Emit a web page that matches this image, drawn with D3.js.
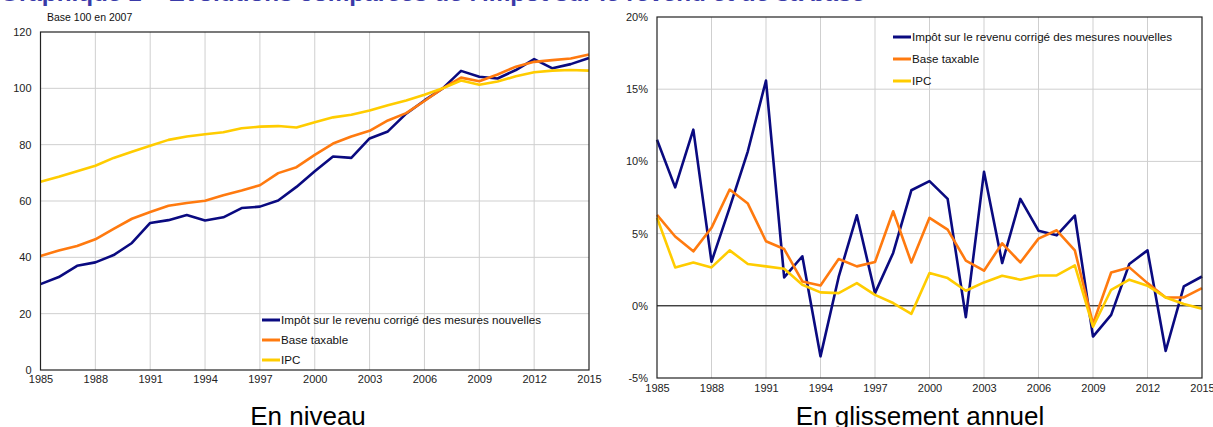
<!DOCTYPE html>
<html><head><meta charset="utf-8">
<script src="https://cdn.jsdelivr.net/npm/d3@7"></script>
<style>
body{margin:0;background:#fff;}
svg{display:block;font-family:"Liberation Sans",Arial,sans-serif;}
</style></head><body>
<svg id="c" width="1213" height="427"></svg>
<script>
const years = d3.range(1985, 2016);
const seriesNames = ["Impôt sur le revenu corrigé des mesures nouvelles", "Base taxable", "IPC"];
const seriesColors = ["#0a0a80", "#ff7a0f", "#ffcc00"];

// En niveau (base 100 en 2007)
const levelImpot = [30.5,33.0,37.0,38.2,40.8,45.1,52.2,53.2,55.0,53.1,54.2,57.5,58.0,60.2,65.0,70.6,75.8,75.3,82.2,84.7,91.0,95.7,100.0,106.2,104.1,103.5,106.5,110.4,107.1,108.6,110.8];
const levelBase = [40.5,42.4,44.0,46.4,50.1,53.7,56.1,58.3,59.3,60.1,62.0,63.7,65.6,69.9,72.0,76.4,80.4,82.9,84.9,88.6,91.2,95.5,100.0,103.8,102.5,104.9,107.7,109.4,110.0,110.6,112.0];
const levelIPC = [66.8,68.6,70.6,72.5,75.3,77.5,79.6,81.7,82.9,83.7,84.4,85.8,86.4,86.6,86.1,88.0,89.7,90.6,92.1,94.0,95.7,97.7,100.0,102.8,101.3,102.4,104.3,105.7,106.3,106.5,106.3];

// En glissement annuel (%)
const growthImpot = [11.5,8.2,12.2,3.05,6.8,10.7,15.6,1.97,3.43,-3.5,2.0,6.27,0.88,3.66,8.0,8.63,7.4,-0.79,9.28,2.96,7.4,5.2,4.88,6.25,-2.13,-0.63,2.9,3.84,-3.13,1.34,2.03];
const growthBase = [6.3,4.8,3.77,5.4,8.05,7.08,4.47,3.93,1.69,1.41,3.24,2.73,3.03,6.55,3.0,6.09,5.28,3.13,2.43,4.33,3.0,4.65,5.23,3.84,-1.25,2.31,2.66,1.57,0.58,0.58,1.23];
const growthIPC = [6.1,2.66,3.0,2.66,3.84,2.89,2.73,2.57,1.46,0.93,0.88,1.57,0.76,0.19,-0.56,2.27,1.92,1.04,1.62,2.08,1.81,2.1,2.1,2.8,-1.45,1.11,1.81,1.39,0.58,0.12,-0.21];

const xTicks = d3.range(1985, 2016, 3);
const leftYTicks = [0,20,40,60,80,100,120];
const rightYTicks = [-5,0,5,10,15,20];

const svg = d3.select("#c");

// cut-off title (only its lowest pixels show, as in the reference)
svg.append("text").attr("x", 0).attr("y", 0.6)
  .attr("font-size", 22).attr("font-weight", "bold").attr("fill", "#3a3aa8")
  .attr("textLength", 865).attr("lengthAdjust", "spacingAndGlyphs")
  .text("Graphique 1 – Évolutions comparées de l'impôt sur le revenu et de sa base");

function panel(cfg) {
  const {x0, x1, y0, y1, domain, yTicks, data, fmt, legend, zero} = cfg;
  const x = d3.scaleLinear().domain([1985, 2015]).range([x0, x1]);
  const y = d3.scaleLinear().domain(domain).range([y1, y0]);
  const g = svg.append("g");

  g.append("g").selectAll("line").data(xTicks.slice(1, -1)).join("line")
    .attr("x1", d => x(d)).attr("x2", d => x(d)).attr("y1", y0).attr("y2", y1)
    .attr("stroke", "#cfcfcf").attr("stroke-width", 1);
  g.append("g").selectAll("line").data(yTicks.slice(1, -1)).join("line")
    .attr("x1", x0).attr("x2", x1).attr("y1", d => y(d)).attr("y2", d => y(d))
    .attr("stroke", "#cfcfcf").attr("stroke-width", 1);

  if (zero) {
    g.append("line").attr("x1", x0).attr("x2", x1).attr("y1", y(0)).attr("y2", y(0))
      .attr("stroke", "#000").attr("stroke-width", 1);
  }

  const ax = g.append("g").attr("transform", `translate(0,${y1})`)
    .call(d3.axisBottom(x).tickValues(xTicks).tickFormat(d3.format("d")).tickSize(0).tickPadding(cfg.xPad));
  ax.select(".domain").remove();
  ax.selectAll("text").attr("font-size", 11).attr("fill", "#222").attr("font-family", "Liberation Sans, Arial, sans-serif");

  const ay = g.append("g").attr("transform", `translate(${x0},0)`)
    .call(d3.axisLeft(y).tickValues(yTicks).tickFormat(fmt).tickSize(0).tickPadding(9));
  ay.select(".domain").remove();
  ay.selectAll("text").attr("font-size", 11).attr("fill", "#222").attr("font-family", "Liberation Sans, Arial, sans-serif");

  const line = d3.line().x((d, i) => x(years[i])).y(d => y(d));
  data.forEach((s, k) => {
    g.append("path").datum(s).attr("d", line).attr("fill", "none")
      .attr("stroke", seriesColors[k]).attr("stroke-width", 2.6)
      .attr("stroke-linejoin", "round");
  });

  g.append("rect").attr("x", x0).attr("y", y0).attr("width", x1 - x0).attr("height", y1 - y0)
    .attr("fill", "none").attr("stroke", "#222").attr("stroke-width", 1.2);

  let factor = 1;
  seriesNames.forEach((n, k) => {
    const ly = legend.y + k * legend.dy;
    g.append("line").attr("x1", legend.x).attr("x2", legend.x + 18).attr("y1", ly).attr("y2", ly)
      .attr("stroke", seriesColors[k]).attr("stroke-width", 3);
    const t = g.append("text").attr("x", legend.x + 19).attr("y", ly + 4)
      .attr("font-size", 11).attr("fill", "#111").text(n);
    const w = t.node().getComputedTextLength();
    if (k === 0) factor = legend.w / w;
    t.attr("textLength", w * factor).attr("lengthAdjust", "spacingAndGlyphs");
  });
  return {x, y};
}

panel({x0: 40.5, x1: 589, y0: 32, y1: 370, domain: [0, 120], yTicks: leftYTicks,
  data: [levelImpot, levelBase, levelIPC], fmt: d3.format("d"), xPad: 5,
  legend: {x: 262, y: 320, dy: 20, w: 260}, zero: false});

panel({x0: 657, x1: 1202, y0: 17, y1: 378, domain: [-5, 20], yTicks: rightYTicks,
  data: [growthImpot, growthBase, growthIPC], fmt: d => d + "%", xPad: 6,
  legend: {x: 893, y: 37, dy: 22, w: 260}, zero: true});

svg.append("text").attr("x", 47).attr("y", 21).attr("font-size", 10.5).attr("fill", "#111").text("Base 100 en 2007");

svg.append("text").attr("x", 308).attr("y", 425).attr("text-anchor", "middle")
  .attr("font-size", 26).attr("fill", "#000").text("En niveau");
svg.append("text").attr("x", 920).attr("y", 425).attr("text-anchor", "middle")
  .attr("font-size", 26).attr("fill", "#000").text("En glissement annuel");
</script>
</body></html>
